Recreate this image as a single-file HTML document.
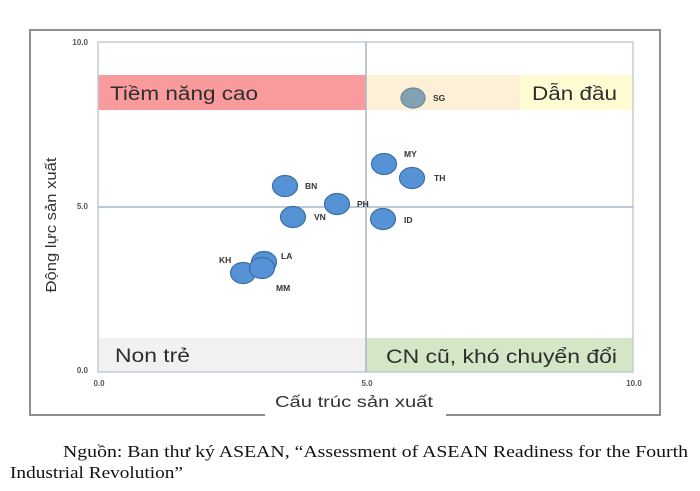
<!DOCTYPE html>
<html>
<head>
<meta charset="utf-8">
<style>
  html, body { margin:0; padding:0; background:#fff; }
  svg { display:block; }
</style>
</head>
<body>
<svg width="700" height="491" viewBox="0 0 700 491" xmlns="http://www.w3.org/2000/svg">
  <rect x="0" y="0" width="700" height="491" fill="#ffffff"/>

  <!-- outer frame -->
  <line x1="30" y1="30" x2="660" y2="30" stroke="#8f8f8f" stroke-width="2"/>
  <line x1="30" y1="29" x2="30" y2="416" stroke="#8f8f8f" stroke-width="2"/>
  <line x1="660" y1="29" x2="660" y2="416" stroke="#8f8f8f" stroke-width="2"/>
  <line x1="29" y1="415" x2="265" y2="415" stroke="#8f8f8f" stroke-width="2"/>
  <line x1="446" y1="415" x2="661" y2="415" stroke="#8f8f8f" stroke-width="2"/>

  <!-- bands -->
  <rect x="98" y="75" width="268" height="35" fill="#f99a9c"/>
  <rect x="366" y="75" width="154" height="35" fill="#fdf0d6"/>
  <rect x="520" y="75" width="113" height="35" fill="#fffbd2"/>
  <rect x="98" y="338" width="268" height="34" fill="#f1f1f1"/>
  <rect x="366" y="338" width="267" height="34" fill="#d3e6c5"/>

  <!-- plot frame and mid lines -->
  <rect x="98" y="42" width="535" height="330" fill="none" stroke="#c3cbd6" stroke-width="1.5"/>
  <line x1="366" y1="42" x2="366" y2="372" stroke="#aab6c6" stroke-width="1.5"/>
  <line x1="98" y1="207" x2="633" y2="207" stroke="#aab6c6" stroke-width="1.5"/>

  <!-- band labels -->
  <g font-family="Liberation Sans, DejaVu Sans, sans-serif" font-size="19" fill="#2e2e2e">
    <text x="110" y="100" textLength="148" lengthAdjust="spacingAndGlyphs">Tiềm năng cao</text>
    <text x="532" y="100" textLength="85" lengthAdjust="spacingAndGlyphs">Dẫn đầu</text>
    <text x="115" y="362" textLength="75" lengthAdjust="spacingAndGlyphs">Non trẻ</text>
    <text x="386" y="363" textLength="231" lengthAdjust="spacingAndGlyphs">CN cũ, khó chuyển đổi</text>
  </g>

  <!-- tick labels -->
  <g font-family="Liberation Sans, DejaVu Sans, sans-serif" font-size="8" font-weight="bold" fill="#555">
    <text x="88" y="45" text-anchor="end">10.0</text>
    <text x="88" y="209" text-anchor="end">5.0</text>
    <text x="88" y="373" text-anchor="end">0.0</text>
    <text x="99" y="386" text-anchor="middle">0.0</text>
    <text x="367" y="386" text-anchor="middle">5.0</text>
    <text x="634" y="386" text-anchor="middle">10.0</text>
  </g>

  <!-- axis titles -->
  <text x="354" y="407" text-anchor="middle" font-family="Liberation Sans, DejaVu Sans, sans-serif" font-size="16" fill="#333" textLength="158" lengthAdjust="spacingAndGlyphs">Cấu trúc sản xuất</text>
  <text transform="translate(56,225) rotate(-90)" text-anchor="middle" font-family="Liberation Sans, DejaVu Sans, sans-serif" font-size="15" fill="#333" textLength="135" lengthAdjust="spacingAndGlyphs">Động lực sản xuất</text>

  <!-- bubbles -->
  <g fill="#5593d6" stroke="#3c6ea6" stroke-width="1.2">
    <ellipse cx="413" cy="98" rx="12" ry="10" fill="#82a2b2" stroke="#6a8a9c"/>
    <ellipse cx="384" cy="164" rx="12.5" ry="10.5"/>
    <ellipse cx="412" cy="178" rx="12.5" ry="10.5"/>
    <ellipse cx="285" cy="186" rx="12.5" ry="10.5"/>
    <ellipse cx="337" cy="204" rx="12.5" ry="10.5"/>
    <ellipse cx="293" cy="217" rx="12.5" ry="10.5"/>
    <ellipse cx="383" cy="219" rx="12.5" ry="10.5"/>
    <ellipse cx="264" cy="262" rx="12.5" ry="10.5"/>
    <ellipse cx="243" cy="273" rx="12.5" ry="10.5"/>
    <ellipse cx="262" cy="268" rx="12.5" ry="10.5"/>
  </g>

  <!-- bubble labels -->
  <g font-family="Liberation Sans, DejaVu Sans, sans-serif" font-size="8.5" font-weight="bold" fill="#333">
    <text x="433" y="101">SG</text>
    <text x="404" y="157">MY</text>
    <text x="434" y="181">TH</text>
    <text x="305" y="189">BN</text>
    <text x="357" y="207">PH</text>
    <text x="314" y="220">VN</text>
    <text x="404" y="223">ID</text>
    <text x="281" y="259">LA</text>
    <text x="219" y="263">KH</text>
    <text x="276" y="291">MM</text>
  </g>

  <!-- caption -->
  <g font-family="Liberation Serif, DejaVu Serif, serif" font-size="17" fill="#111">
    <text x="63" y="457" textLength="625" lengthAdjust="spacingAndGlyphs">Nguồn: Ban thư ký ASEAN, “Assessment of ASEAN Readiness for the Fourth</text>
    <text x="10" y="478" textLength="173" lengthAdjust="spacingAndGlyphs">Industrial Revolution”</text>
  </g>
</svg>
</body>
</html>
